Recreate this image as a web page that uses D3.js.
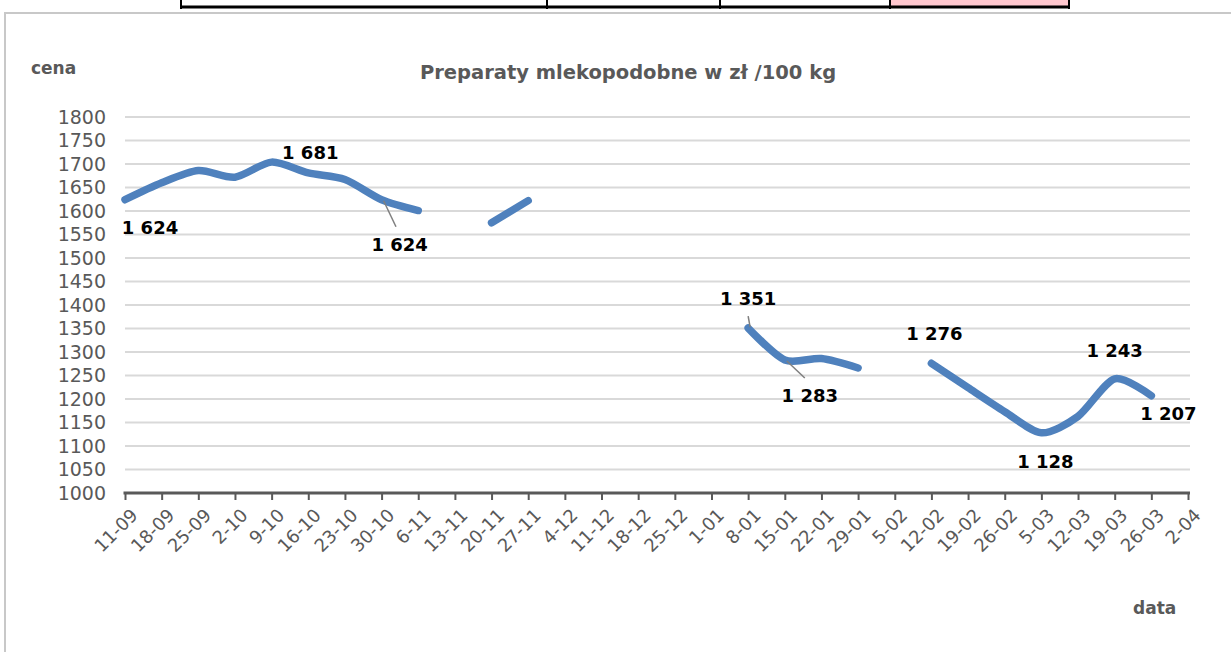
<!DOCTYPE html>
<html>
<head>
<meta charset="utf-8">
<script src="https://cdn.jsdelivr.net/npm/d3@7"></script>
<style>
    body { margin: 0; background: #fff; }
    svg { display: block; }
</style>
</head>
<body>
<svg id="chart" width="1231" height="652"></svg>
<script>
// Weekly dates on the x axis
var dates = ['11-09', '18-09', '25-09', '2-10', '9-10', '16-10', '23-10', '30-10', '6-11', '13-11',
    '20-11', '27-11', '4-12', '11-12', '18-12', '25-12', '1-01', '8-01', '15-01', '22-01',
    '29-01', '5-02', '12-02', '19-02', '26-02', '5-03', '12-03', '19-03', '26-03', '2-04'];

// Price in zl / 100 kg (null = no quotation that week)
var prices = [1624, 1660, 1686, 1672, 1704, 1681, 1667, 1624, 1601, null,
    1575, 1622, null, null, null, null, null, 1351, 1283, 1286,
    1266, null, 1276, 1224, 1173, 1128, 1163, 1243, 1207, null];

// Points that carry a data label
var labelled = [0, 5, 7, 17, 18, 22, 25, 27, 28];

var yTicks = [1000, 1050, 1100, 1150, 1200, 1250, 1300, 1350, 1400, 1450, 1500,
    1550, 1600, 1650, 1700, 1750, 1800];

var title = 'Preparaty mlekopodobne w zł /100 kg';

// Label placement relative to its point: [dx, dy, leader line]
var labelOffsets = {
    0: [25, 28, false], 5: [2, -20, false], 7: [18, 45, true],
    17: [0, -30, true], 18: [25, 36, true], 22: [3, -30, false],
    25: [4, 29, false], 27: [0, -28, false], 28: [17, 18, false]
};

var svg = d3.select('#chart');
var grey = '#595959';

// Fragment of the table above the chart
var table = svg.append('g');
table.append('rect').attr('x', 891).attr('y', 0).attr('width', 177).attr('height', 6).attr('fill', '#ffc7ce');
table.append('line').attr('x1', 180).attr('x2', 1070).attr('y1', 7).attr('y2', 7)
    .attr('stroke', '#000').attr('stroke-width', 3);
[181, 547, 720, 890, 1069].forEach(function(x) {
    table.append('line').attr('x1', x).attr('x2', x).attr('y1', 0).attr('y2', 9)
        .attr('stroke', '#000').attr('stroke-width', 2);
});

// Chart frame
svg.append('rect').attr('x', 5).attr('y', 13).attr('width', 1240).attr('height', 660)
    .attr('fill', 'none').attr('stroke', '#c8c8c8').attr('stroke-width', 2);

var x = d3.scalePoint().domain(dates).range([125, 1188]);
var y = d3.scaleLinear().domain([1000, 1800]).range([493, 117]);

// Gridlines
svg.append('g').selectAll('line')
    .data(yTicks.slice(1))
    .enter().append('line')
    .attr('x1', 125).attr('x2', 1190)
    .attr('y1', function(d) { return y(d); })
    .attr('y2', function(d) { return y(d); })
    .attr('stroke', '#d9d9d9').attr('stroke-width', 2);

// Y axis
var yAxis = svg.append('g').attr('transform', 'translate(106,0)')
    .call(d3.axisLeft(y).tickValues(yTicks).tickSize(0).tickPadding(0).tickFormat(d3.format('d')));
yAxis.select('.domain').remove();
yAxis.selectAll('text').attr('fill', grey).style('font', '19px "DejaVu Sans"');

// X axis
var xAxis = svg.append('g').attr('transform', 'translate(0,' + y(1000) + ')')
    .call(d3.axisBottom(x).tickSize(7).tickSizeOuter(0));
xAxis.select('.domain').attr('stroke', grey).attr('stroke-width', 3).attr('d', 'M123.5,0H1190');
xAxis.selectAll('.tick line').attr('stroke', grey).attr('stroke-width', 2);
xAxis.selectAll('text')
    .attr('fill', grey).style('font', '18px "DejaVu Sans"')
    .attr('text-anchor', 'end')
    .attr('transform', 'rotate(-45)')
    .attr('x', -7).attr('y', 26).attr('dy', 0);

// Smoothed line with gaps
var line = d3.line()
    .defined(function(d) { return d !== null; })
    .x(function(d, i) { return x(dates[i]); })
    .y(function(d) { return y(d); })
    .curve(d3.curveCardinal.tension(0.2));

svg.append('path')
    .datum(prices)
    .attr('d', line)
    .attr('fill', 'none')
    .attr('stroke', '#4f81bd')
    .attr('stroke-width', 7.5)
    .attr('stroke-linecap', 'round')
    .attr('stroke-linejoin', 'round');

// Data labels
var fmt = d3.formatLocale({ decimal: ',', thousands: ' ', grouping: [3], currency: ['', ' zł'] }).format(',d');
var labels = svg.append('g');
labelled.forEach(function(i) {
    var px = x(dates[i]), py = y(prices[i]);
    var off = labelOffsets[i];
    var lx = px + off[0], ly = py + off[1];
    if (off[2]) {
        var ey = ly + (off[1] > 0 ? -18 : 18);
        labels.append('line')
            .attr('x1', px + 2).attr('y1', py + (off[1] > 0 ? 1 : -1))
            .attr('x2', px + off[0] * 0.8).attr('y2', ey)
            .attr('stroke', '#7f7f7f').attr('stroke-width', 1.5);
    }
    labels.append('text')
        .attr('x', lx).attr('y', ly).attr('dy', '0.36em')
        .attr('text-anchor', 'middle')
        .style('font', 'bold 18px "DejaVu Sans"')
        .attr('fill', '#000')
        .text(fmt(prices[i]));
});

// Titles
svg.append('text').attr('x', 628).attr('y', 79).attr('text-anchor', 'middle')
    .style('font', 'bold 19.5px "DejaVu Sans"').attr('fill', grey).text(title);
svg.append('text').attr('x', 31).attr('y', 74)
    .style('font', 'bold 17px "DejaVu Sans"').attr('fill', grey).text('cena');
svg.append('text').attr('x', 1133).attr('y', 614)
    .style('font', 'bold 17px "DejaVu Sans"').attr('fill', grey).text('data');
</script>
</body>
</html>
